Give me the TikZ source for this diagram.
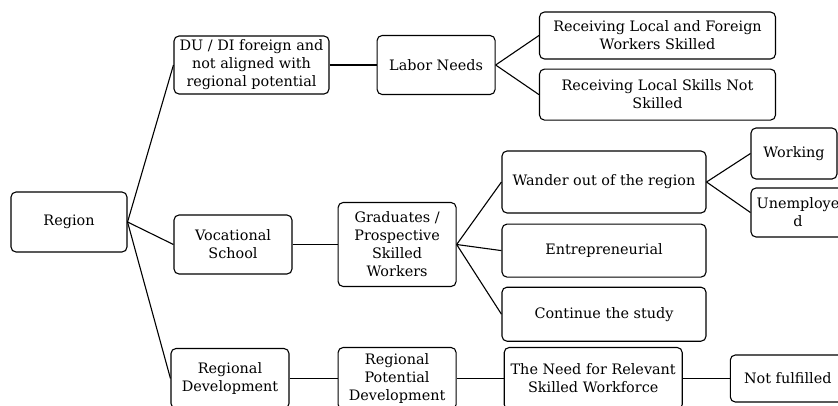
\documentclass[tikz,border=0pt]{standalone}
\usepackage{fontspec}
\setmainfont{DejaVu Serif}
\usetikzlibrary{positioning}

\tikzset{
  box/.style={draw, line width=1.1pt, rounded corners=5pt, align=center,
    inner sep=2pt, font=\fontsize{14.4}{18}\selectfont},
  link/.style={line width=1.1pt},
}

\begin{document}
\begin{tikzpicture}[x=1pt, y=-1pt]
  \useasboundingbox (0,0) rectangle (838,405);
  \clip (0,0) rectangle (838,405);

  \node[box, minimum width=116pt, minimum height=60pt] (region) at (69,222) {Region};

  \node[box, minimum width=155pt, minimum height=58pt] (dudi) at (251.5,65)
    {DU / DI foreign and\\not aligned with\\regional potential};
  \node[box, minimum width=118pt, minimum height=59pt, right=47pt of dudi] (labor) {Labor Needs};
  \node[box, minimum width=236pt, minimum height=47pt] (recvA) at (657.5,35.5)
    {Receiving Local and Foreign\\Workers Skilled};
  \node[box, minimum width=236pt, minimum height=51pt, below=9pt of recvA] (recvB)
    {Receiving Local Skills Not\\Skilled};

  \node[box, minimum width=118pt, minimum height=59pt] (voc) at (233,244.5) {Vocational\\School};
  \node[box, minimum width=118pt, minimum height=84pt, right=45pt of voc] (grad)
    {Graduates /\\Prospective\\Skilled\\Workers};
  \node[box, minimum width=204pt, minimum height=62pt] (wander) at (604,182) {Wander out of the region};
  \node[box, minimum width=204pt, minimum height=53pt, below=10pt of wander] (entre) {Entrepreneurial};
  \node[box, minimum width=204pt, minimum height=54pt, below=9pt of entre] (study) {Continue the study};
  \node[box, minimum width=86pt, minimum height=51pt] (working) at (794,153.5) {Working};
  \node[box, minimum width=94pt, minimum height=49pt] (unemp) at (798,212.5) {Unemploye\\d};

  \node[box, minimum width=118pt, minimum height=60pt] (regdev) at (230,378.5) {Regional\\Development};
  \node[box, minimum width=118pt, minimum height=62pt, right=48pt of regdev] (regpot)
    {Regional\\Potential\\Development};
  \node[box, minimum width=178pt, minimum height=62pt, right=47pt of regpot] (need)
    {The Need for Relevant\\Skilled Workforce};
  \node[box, minimum width=115pt, minimum height=47pt, right=47pt of need] (notf) {Not fulfilled};

  \draw[link] (region.east) -- (dudi.west);
  \draw[link] (region.east) -- (voc.west);
  \draw[link] (region.east) -- (regdev.west);
  \draw[link] (dudi) -- (labor);
  \draw[link] (labor.east) -- (recvA.west);
  \draw[link] (labor.east) -- (recvB.west);
  \draw[link] (voc) -- (grad);
  \draw[link] (grad.east) -- (wander.west);
  \draw[link] (grad.east) -- (entre.west);
  \draw[link] (grad.east) -- (study.west);
  \draw[link] (wander.east) -- (working.west);
  \draw[link] (wander.east) -- (unemp.west);
  \draw[link] (regdev) -- (regpot);
  \draw[link] (regpot) -- (need);
  \draw[link] (need) -- (notf);
\end{tikzpicture}
\end{document}
